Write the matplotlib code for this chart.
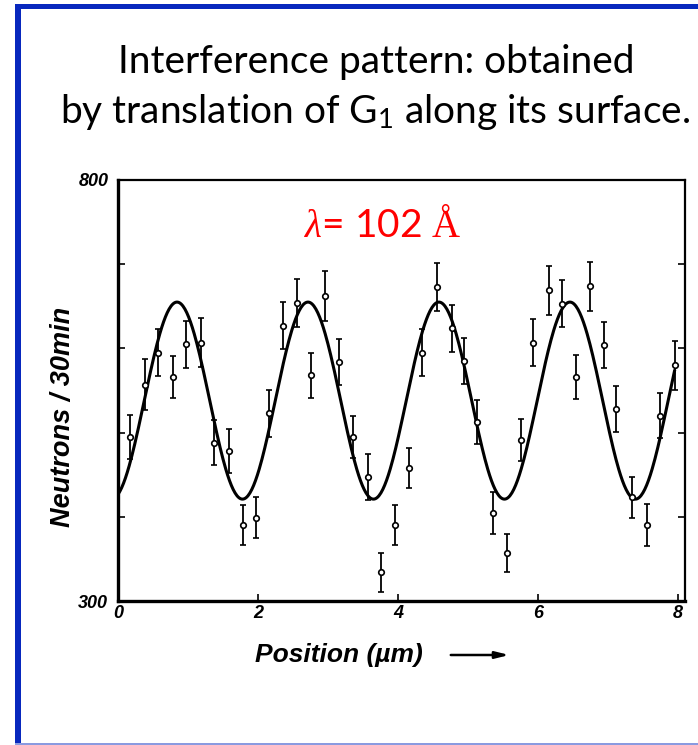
import numpy as np
import matplotlib
matplotlib.use("Agg")
import matplotlib.pyplot as plt
from matplotlib.patches import Rectangle

# measured counts (neutrons per 30 min) versus position of G1
position = [0.17, 0.38, 0.57, 0.78, 0.97, 1.18, 1.37, 1.58, 1.78, 1.97,
            2.16, 2.36, 2.55, 2.76, 2.96, 3.16, 3.35, 3.57, 3.76, 3.96,
            4.16, 4.34, 4.55, 4.77, 4.94, 5.13, 5.35, 5.55, 5.75, 5.93,
            6.15, 6.34, 6.54, 6.74, 6.94, 7.12, 7.34, 7.55, 7.74, 7.95]
counts = [495, 557, 595, 566, 605, 607, 488, 478, 390, 399,
          523, 627, 654, 568, 662, 584, 495, 447, 334, 390,
          458, 595, 673, 624, 585, 513, 404, 357, 491, 607,
          669, 653, 566, 674, 604, 528, 423, 390, 520, 580]
errors = [26, 30, 28, 25, 28, 29, 27, 26, 24, 24,
          28, 28, 29, 27, 30, 27, 25, 27, 23, 24,
          24, 28, 29, 28, 27, 26, 25, 23, 25, 28,
          29, 28, 26, 29, 27, 27, 24, 25, 27, 29]

# fitted interference curve: mean, amplitude, period (um), first maximum (um)
fit_mean = 538
fit_amp = 117
fit_period = 1.871
fit_peak = 0.843

yticks = [300, 400, 500, 600, 700, 800]
ytick_labels = ["300", "", "", "", "", "800"]
xticks = [0, 2, 4, 6, 8]

plt.rcParams["mathtext.fontset"] = "custom"
plt.rcParams["mathtext.rm"] = "Liberation Serif"
plt.rcParams["mathtext.it"] = "Liberation Serif:italic"
plt.rcParams["mathtext.sf"] = "Lato"

W, H = 698, 745
fig = plt.figure(figsize=(W / 100, H / 100), dpi=100)
fig.patch.set_facecolor("white")

# blue frame around the slide
blue = "#0828BE"
fig.add_artist(Rectangle((15 / W, 0), 6 / W, 1 - 4 / H, transform=fig.transFigure,
                         color=blue, lw=0))
fig.add_artist(Rectangle((15 / W, 1 - 9 / H), 1, 5 / H, transform=fig.transFigure,
                         color=blue, lw=0))
fig.add_artist(Rectangle((15 / W, 0), 1, 2 / H, transform=fig.transFigure,
                         color="#8A9AE0", lw=0))

# title
fig.text(376 / W, 1 - 62 / H, "Interference pattern: obtained", ha="center", va="center",
         fontsize=28, family="Lato", color="black")
fig.text(375 / W, 1 - 112 / H, r"by translation of G$_\mathsf{1}$ along its surface.",
         ha="center", va="center", fontsize=28, family="Lato", color="black")

ax = fig.add_axes([118 / W, 1 - 601 / H, (685 - 118) / W, (601 - 180) / H])
ax.set_xlim(0, 8.1)
ax.set_ylim(300, 800)

xs = np.linspace(0, 7.95, 600)
ax.plot(xs, fit_mean + fit_amp * np.cos(2 * np.pi * (xs - fit_peak) / fit_period),
        color="black", lw=2.2, zorder=3)

ax.errorbar(position, counts, yerr=errors, fmt="o", ms=4, mfc="white", mec="black",
            mew=1.2, ecolor="black", elinewidth=1.3, capsize=2.5, capthick=1.2, zorder=4)

for side, lw in [("left", 2.4), ("bottom", 2.4), ("top", 1.6), ("right", 1.6)]:
    ax.spines[side].set_linewidth(lw)

tick_font = dict(family="Liberation Sans", weight="bold", style="italic", size=13)
ax.set_yticks(yticks)
ax.set_yticklabels(ytick_labels, **tick_font)
ax.set_xticks(xticks)
ax.set_xticklabels([str(t) for t in xticks], **tick_font)
ax.tick_params(axis="both", direction="in", length=5, width=1.2, pad=3,
               right=True)
ax.tick_params(axis="y", pad=7)

ax.set_ylabel("Neutrons / 30min", family="Liberation Sans", weight="bold",
              style="italic", fontsize=19.5)
ax.yaxis.set_label_coords(-0.074, 0.437)

fig.text(255 / W, 1 - 655 / H, "Position (\u00b5m)", ha="left", va="center",
         family="Liberation Sans", weight="bold", style="italic", fontsize=19)
ax.annotate("", xy=(512 / W, 1 - 655 / H), xytext=(448 / W, 1 - 655 / H),
            xycoords="figure fraction", textcoords="figure fraction",
            arrowprops=dict(arrowstyle="-|>,head_length=0.8,head_width=0.2",
                            color="black", lw=1.8))

ax.text(0.467, 0.893, r"$\lambda$= 102 $\mathrm{\AA}$", transform=ax.transAxes,
        ha="center", va="center", color="red", fontsize=28, family="Lato")

fig.savefig("out.png", dpi=100, facecolor="white")
